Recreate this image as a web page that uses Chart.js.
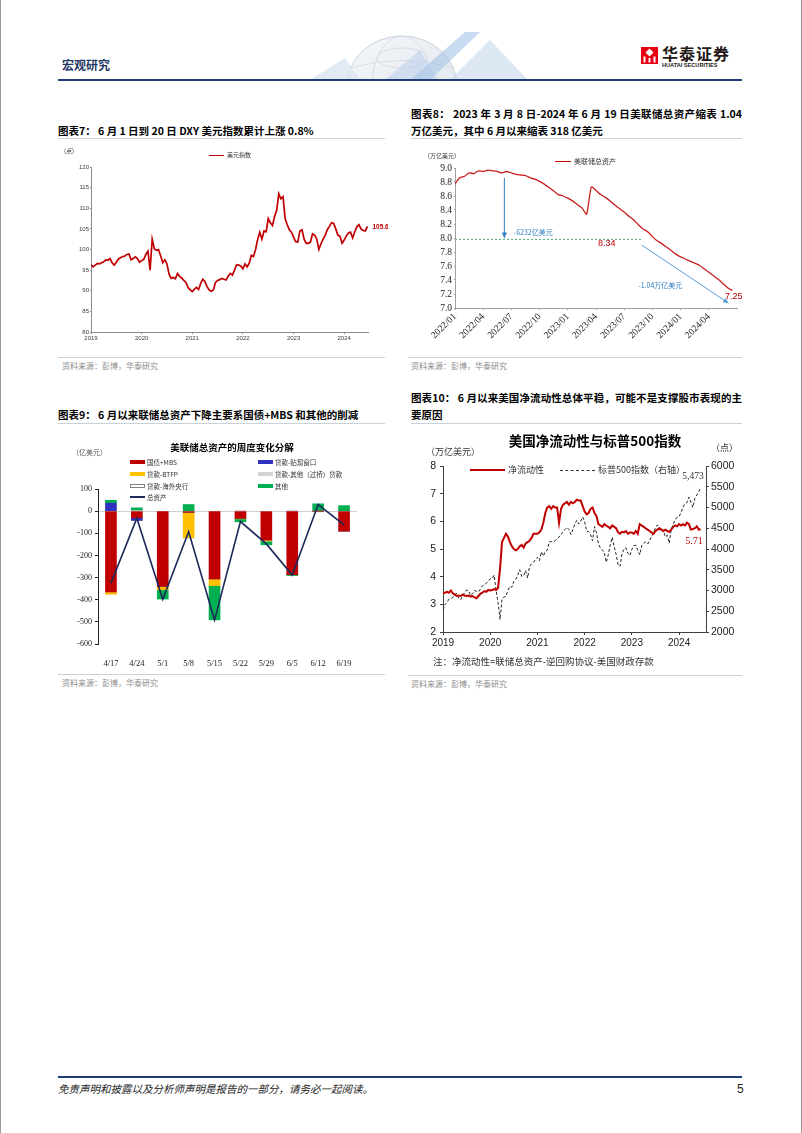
<!DOCTYPE html>
<html>
<head>
<meta charset="utf-8">
<script src="https://cdn.jsdelivr.net/npm/chart.js@4.4.1/dist/chart.umd.min.js"></script>
<style>
html, body { margin: 0; padding: 0; }
body {
    width: 802px; height: 1133px; position: relative; overflow: hidden; background: #fff;
    font-family: "Noto Sans CJK SC", "Liberation Sans", sans-serif; color: #000;
}
.abs { position: absolute; white-space: nowrap; }
.edge { position: absolute; top: 0; width: 1px; height: 1133px; background: #9a9a9a; }
.rule { position: absolute; height: 1px; background: #c8d2da; }
.fig-title { position: absolute; font-weight: 700; font-size: 10.5px; line-height: 17px; }
.fig-title .just { text-align: justify; text-align-last: justify; }
.source { position: absolute; font-size: 8px; line-height: 10px; color: #8c8c8c; }
.small { font-size: 6px; line-height: 6px; color: #333; }
.swatch { position: absolute; }
canvas { position: absolute; }
</style>
</head>
<body>

<div class="edge" style="left:0"></div>
<div class="edge" style="left:801px"></div>

<!-- page header -->
<svg class="abs" style="left:290px; top:28px;" width="250" height="52">
    <defs>
        <linearGradient id="globe" x1="0" y1="0" x2="1" y2="1">
            <stop offset="0" stop-color="#f4f6f9"/>
            <stop offset="1" stop-color="#dfe6ee"/>
        </linearGradient>
    </defs>
    <ellipse cx="112" cy="58" rx="55" ry="50" fill="url(#globe)" stroke="#c9d1db" stroke-width="1"/>
    <ellipse cx="112" cy="58" rx="30" ry="50" fill="none" stroke="#d3d9e1" stroke-width="0.8"/>
    <ellipse cx="112" cy="30" rx="25" ry="10" fill="none" stroke="#d3d9e1" stroke-width="0.8"/>
    <path d="M60 40 Q112 25 164 40" fill="none" stroke="#d3d9e1" stroke-width="0.8"/>
    <polygon points="20,52 55,30 70,52" fill="#dbe5f0" opacity="0.8"/>
    <polygon points="120,52 175,4 190,4 140,52" fill="#9dbde3" opacity="0.55"/>
    <polygon points="160,52 200,12 238,52" fill="#c7d8ec" opacity="0.6"/>
    <polygon points="95,52 130,22 148,52" fill="#b6cde9" opacity="0.5"/>
</svg>
<div class="abs" style="left:62px; top:58px; font-size:12px; line-height:14px; font-weight:700; color:#1f3864;">宏观研究</div>
<svg class="abs" style="left:641px; top:47px;" width="17" height="17">
    <rect x="0" y="0" width="17" height="17" fill="#e60012"/>
    <polygon points="8.5,1.5 12.5,5.5 8.5,9.5 4.5,5.5" fill="#fff"/>
    <rect x="2.5" y="9.5" width="2" height="6" fill="#fff"/>
    <rect x="7.5" y="11" width="2" height="4.5" fill="#fff"/>
    <rect x="12.5" y="9.5" width="2" height="6" fill="#fff"/>
</svg>
<div class="abs" style="left:662px; top:45px; font-size:16px; line-height:16px; font-weight:700; color:#231815; letter-spacing:1px;">华泰证券</div>
<div class="abs" style="left:662px; top:62px; font-size:5.6px; line-height:6px; font-weight:700; color:#231815; font-family:'Liberation Sans';">HUATAI SECURITIES</div>
<div class="abs" style="left:58px; top:79px; width:684px; height:2px; background:#1f3c78;"></div>

<!-- figure titles -->
<div class="fig-title" style="left:58px; top:121.5px;">图表7：&nbsp;6 月 1 日到 20 日 DXY 美元指数累计上涨 0.8%</div>
<div class="fig-title" style="left:411px; top:104.5px; width:331px;">
    <div class="just">图表8：&nbsp;2023 年 3 月 8 日-2024 年 6 月 19 日美联储总资产缩表 1.04</div>
    <div>万亿美元，其中 6 月以来缩表 318 亿美元</div>
</div>
<div class="rule" style="left:58px; top:138px; width:327px;"></div>
<div class="rule" style="left:411px; top:138px; width:331px;"></div>

<div class="fig-title" style="left:58px; top:405.5px;">图表9：&nbsp;6 月以来联储总资产下降主要系国债+MBS 和其他的削减</div>
<div class="fig-title" style="left:411px; top:389px; width:331px;">
    <div class="just">图表10：&nbsp;6 月以来美国净流动性总体平稳，可能不是支撑股市表现的主</div>
    <div>要原因</div>
</div>
<div class="rule" style="left:58px; top:423px; width:327px;"></div>
<div class="rule" style="left:411px; top:423px; width:331px;"></div>

<!-- figure 7 -->
<canvas id="dxyChart" width="330" height="210" style="left:58px; top:140px;"></canvas>
<div class="abs small" style="left:64px; top:148px;">(点)</div>
<div class="swatch" style="left:209px; top:154.5px; width:15px; height:1.5px; background:#c00000;"></div>
<div class="abs small" style="left:227px; top:152px;">美元指数</div>

<!-- figure 8 -->
<canvas id="fedChart" width="334" height="212" style="left:408px; top:140px;"></canvas>
<div class="abs small" style="left:424px; top:153px;">（万亿美元）</div>
<div class="swatch" style="left:555px; top:160.5px; width:16px; height:1.5px; background:#c00000;"></div>
<div class="abs" style="left:574px; top:157.5px; font-size:7px; line-height:7px; color:#333;">美联储总资产</div>

<div class="rule" style="left:58px; top:357px; width:327px;"></div>
<div class="rule" style="left:408px; top:357px; width:334px;"></div>
<div class="source" style="left:62px; top:361px;">资料来源：彭博，华泰研究</div>
<div class="source" style="left:411px; top:361px;">资料来源：彭博，华泰研究</div>

<!-- figure 9 -->
<canvas id="flowChart" width="327" height="245" style="left:58px; top:425px;"></canvas>
<div class="abs" style="left:58px; top:442px; width:348px; text-align:center; font-size:9.5px; line-height:11px; font-weight:700;">美联储总资产的周度变化分解</div>
<div class="abs" style="left:72px; top:448px; font-size:7px; line-height:8px; color:#555;">（亿美元）</div>
<div id="flowLegend"></div>

<!-- figure 10 -->
<canvas id="liqChart" width="334" height="232" style="left:408px; top:425px;"></canvas>
<div class="abs" style="left:408px; top:432px; width:374px; text-align:center; font-size:13.5px; line-height:16px; font-weight:700;">美国净流动性与标普500指数</div>
<div class="abs" style="left:426px; top:447px; font-size:9px; line-height:10px; color:#333;">（万亿美元）</div>
<div class="abs" style="left:711px; top:443px; font-size:9px; line-height:10px; color:#333;">（点）</div>
<div class="swatch" style="left:470px; top:469px; width:35px; height:2.2px; background:#c00000;"></div>
<div class="abs" style="left:508px; top:465px; font-size:9px; line-height:10px; color:#333;">净流动性</div>
<div class="swatch" style="left:560px; top:470px; width:35px; height:0; border-top:1px dashed #333;"></div>
<div class="abs" style="left:598px; top:465px; font-size:9px; line-height:10px; color:#333;">标普500指数（右轴）</div>
<div class="abs" style="left:433px; top:656px; font-size:9.5px; line-height:11px; color:#333;">注：净流动性=联储总资产-逆回购协议-美国财政存款</div>

<div class="rule" style="left:58px; top:674px; width:327px;"></div>
<div class="rule" style="left:408px; top:675px; width:334px;"></div>
<div class="source" style="left:62px; top:678px;">资料来源：彭博，华泰研究</div>
<div class="source" style="left:411px; top:679px;">资料来源：彭博，华泰研究</div>

<!-- footer -->
<div class="abs" style="left:58px; top:1076px; width:684px; height:2px; background:#1f3c78;"></div>
<div class="abs" style="left:58px; top:1083px; font-size:10.5px; line-height:12px; font-style:italic; color:#222;">免责声明和披露以及分析师声明是报告的一部分，请务必一起阅读。</div>
<div class="abs" style="left:737px; top:1082px; font-size:12px; line-height:14px; font-family:'Liberation Sans'; color:#222;">5</div>

<script>
// ---- figure 7: DXY, two readings per month from 2019/01 ----
const dxyStartYear = 2019;
const dxyPerYear = 24;
const dxyYears = [2019, 2020, 2021, 2022, 2023, 2024];
const dxyValues = [
    96.3, 95.8, 96.2, 96.6, 96.5, 96.8, 97.0, 97.5, 97.4, 97.8, 96.8, 96.2,
    96.9, 97.7, 98.0, 98.3, 98.4, 98.8, 98.9, 97.5, 97.8, 98.2, 97.8, 96.9,
    97.3, 97.6, 98.8, 99.6, 95.0, 102.5, 100.2, 99.8, 100.0, 98.5, 96.8, 97.5,
    96.5, 94.0, 93.0, 93.2, 92.9, 94.2, 93.5, 93.1, 92.5, 92.0, 90.8, 90.2,
    89.8, 90.4, 90.8, 90.3, 91.8, 92.8, 92.2, 91.0, 90.2, 89.9, 90.2, 92.0,
    92.5, 92.7, 93.0, 92.8, 92.6, 93.5, 94.2, 93.8, 95.0, 96.3, 96.2, 96.0,
    95.3, 96.5, 95.8, 96.7, 98.6, 98.3, 100.0, 102.5, 104.2, 102.5, 104.5, 104.3,
    107.5, 106.5, 105.8, 108.0, 109.5, 113.5, 112.3, 112.8, 107.5, 106.0, 104.8, 104.2,
    103.0, 101.9, 101.8, 104.5, 104.8, 102.5, 101.5, 101.5, 101.8, 103.8, 103.5, 102.5,
    100.0, 101.4, 102.5, 103.5, 104.8, 105.6, 106.5, 106.3, 105.0, 103.5, 103.2, 101.5,
    102.3, 103.3, 104.0, 104.2, 102.8, 104.3, 105.5, 106.0, 105.0, 104.6, 104.5, 105.6
];

// ---- figure 8: Fed total assets (trillion USD), half-month steps from 2022/01 ----
const fedTickLabels = ['2022/01', '2022/04', '2022/07', '2022/10', '2023/01',
    '2023/04', '2023/07', '2023/10', '2024/01', '2024/04'];
const fedAssets = [
    8.77, 8.86, 8.88, 8.93, 8.92, 8.96, 8.95, 8.97, 8.96, 8.95, 8.93, 8.95,
    8.93, 8.91, 8.90, 8.89, 8.86, 8.84, 8.81, 8.77, 8.72, 8.67, 8.62, 8.60,
    8.57, 8.53, 8.48, 8.43, 8.34, 8.73, 8.68, 8.62, 8.58, 8.53, 8.47, 8.42,
    8.37, 8.31, 8.26, 8.19, 8.13, 8.09, 8.02, 7.96, 7.92, 7.87, 7.82, 7.77,
    7.73, 7.70, 7.67, 7.64, 7.61, 7.56, 7.51, 7.46, 7.41, 7.35, 7.29, 7.25
];

// ---- figure 9: weekly change in Fed balance sheet (100 mn USD) ----
const weekLabels = ['4/17', '4/24', '5/1', '5/8', '5/15', '5/22', '5/29', '6/5', '6/12', '6/19'];
const treasuryMbs = [-365, -30, -340, -5, -306, -32, -130, -287, 0, -90];
const discountWindow = [36, -12, 0, 0, 0, 0, 0, 0, 0, 0];
const btfpLoans = [-10, 0, -15, -115, -30, -3, -5, 0, 0, 0];
const bridgeLoans = [0, 2, 0, -3, 0, 4, 0, 4, -4, 0];
const foreignCbLoans = [0, 0, 0, 0, 0, 0, 0, 0, 0, 0];
const otherItems = [13, 13, -42, 30, -155, -13, -17, -4, 33, 25];
const totalChange = [-325, -32, -398, -93, -492, -47, -148, -289, 30, -62];

// ---- figure 10: net liquidity (trillion USD) and S&P 500, half-month steps from 2019/01 ----
const liqYears = [2019, 2020, 2021, 2022, 2023, 2024];
const netLiquidity = [
    3.40, 3.42, 3.45, 3.42, 3.50, 3.40, 3.35, 3.30, 3.32, 3.30, 3.35, 3.32,
    3.30, 3.32, 3.28, 3.30, 3.25, 3.22, 3.30, 3.38, 3.42, 3.48, 3.45, 3.52,
    3.50, 3.52, 3.55, 3.52, 3.60, 4.30, 5.25, 5.40, 5.55, 5.45, 5.25, 5.10,
    5.00, 4.95, 5.00, 5.10, 5.15, 5.05, 5.20, 5.25, 5.30, 5.40, 5.55, 5.55,
    5.55, 5.60, 5.70, 5.95, 6.30, 6.50, 6.55, 6.45, 6.55, 6.50, 6.50, 5.95,
    6.45, 6.60, 6.65, 6.70, 6.60, 6.70, 6.65, 6.70, 6.78, 6.75, 6.75, 6.55,
    6.35, 6.25, 6.30, 6.45, 6.50, 6.30, 6.20, 5.90, 5.85, 5.80, 5.90, 5.85,
    5.80, 5.75, 5.85, 5.80, 5.75, 5.60, 5.55, 5.62, 5.60, 5.65, 5.55, 5.60,
    5.60, 5.55, 5.65, 5.55, 5.90, 5.85, 5.80, 5.75, 5.70, 5.65, 5.60, 5.55,
    5.65, 5.70, 5.75, 5.70, 5.65, 5.70, 5.65, 5.62, 5.70, 5.80, 5.85, 5.82,
    5.90, 5.85, 5.90, 5.85, 5.95, 5.90, 5.70, 5.72, 5.75, 5.82, 5.70, 5.71
];
const spxIndex = [
    2530, 2660, 2710, 2790, 2810, 2830, 2905, 2930, 2810, 2780, 2880, 2950,
    3010, 3000, 2880, 2920, 3000, 2980, 2970, 3030, 3110, 3140, 3170, 3230,
    3280, 3290, 3370, 3000, 2710, 2300, 2800, 2840, 2860, 3000, 3100, 3080,
    3220, 3270, 3370, 3500, 3340, 3360, 3480, 3300, 3580, 3640, 3680, 3750,
    3800, 3720, 3930, 3830, 3940, 3970, 4170, 4180, 4170, 4200, 4250, 4290,
    4360, 4400, 4470, 4520, 4470, 4350, 4470, 4600, 4690, 4600, 4670, 4770,
    4660, 4430, 4420, 4350, 4200, 4540, 4390, 4130, 4020, 3980, 3900, 3680,
    3860, 4100, 4280, 4060, 3870, 3620, 3580, 3900, 3990, 4030, 3900, 3840,
    3990, 4080, 4090, 3970, 3860, 4080, 4140, 4170, 4120, 4200, 4300, 4400,
    4510, 4580, 4460, 4430, 4460, 4290, 4330, 4140, 4470, 4590, 4720, 4760,
    4780, 4880, 5010, 5090, 5120, 5250, 5130, 5000, 5220, 5300, 5380, 5473
];

Chart.defaults.animation = false;
Chart.defaults.font.family = '"Liberation Sans", Arial, sans-serif';
Chart.defaults.color = '#333';

function fixWidth(w) { return scale => { scale.width = w; }; }
function fixHeight(h) { return scale => { scale.height = h; }; }

function drawArrow(ctx, x1, y1, x2, y2, color) {
    ctx.save();
    ctx.strokeStyle = color;
    ctx.fillStyle = color;
    ctx.lineWidth = 1;
    ctx.beginPath();
    ctx.moveTo(x1, y1);
    ctx.lineTo(x2, y2);
    ctx.stroke();
    const a = Math.atan2(y2 - y1, x2 - x1);
    const h = 6;
    ctx.beginPath();
    ctx.moveTo(x2, y2);
    ctx.lineTo(x2 - h * Math.cos(a - 0.45), y2 - h * Math.sin(a - 0.45));
    ctx.lineTo(x2 - h * Math.cos(a + 0.45), y2 - h * Math.sin(a + 0.45));
    ctx.closePath();
    ctx.fill();
    ctx.restore();
}

// Figure 7
const dxyLast = dxyValues.length - 1;
new Chart(document.getElementById('dxyChart'), {
    type: 'line',
    data: {
        datasets: [{
            data: dxyValues.map((v, i) => ({ x: dxyStartYear + i / dxyPerYear, y: v })),
            borderColor: '#c00000',
            borderWidth: 1.7,
            pointRadius: 0,
            tension: 0
        }]
    },
    options: {
        responsive: false,
        layout: { padding: { top: 27, right: 20, left: 0, bottom: 0 } },
        plugins: { legend: { display: false }, tooltip: { enabled: false } },
        scales: {
            x: {
                type: 'linear', min: dxyYears[0], max: 2024.47,
                ticks: { stepSize: 1, includeBounds: false, maxRotation: 0, padding: 1,
                    font: { size: 6 }, color: '#404040', callback: v => String(v) },
                grid: { drawOnChartArea: false, tickLength: 2, color: '#8c8c8c' },
                border: { color: '#8c8c8c' },
                afterFit: fixHeight(18)
            },
            y: {
                min: 80, max: 120,
                ticks: { stepSize: 5, padding: 1, autoSkip: false, font: { size: 6 }, color: '#404040' },
                grid: { drawOnChartArea: false, tickLength: 1, color: '#8c8c8c' },
                border: { color: '#8c8c8c' },
                afterFit: fixWidth(33)
            }
        }
    },
    plugins: [{
        id: 'dxyEndLabel',
        afterDatasetsDraw(chart) {
            const { ctx, scales } = chart;
            const x = scales.x.getPixelForValue(dxyStartYear + dxyLast / dxyPerYear);
            const y = scales.y.getPixelForValue(dxyValues[dxyLast]);
            ctx.save();
            ctx.fillStyle = '#c00000';
            ctx.font = 'bold 6.5px "Liberation Sans"';
            ctx.textBaseline = 'middle';
            ctx.fillText(dxyValues[dxyLast].toFixed(1), x + 5, y + 1);
            ctx.restore();
        }
    }]
});

// Figure 8
const fedMarks = {
    base: 7.98, baseEnd: 40,
    arrow1: { x: 10.5, from: 8.86, to: 8.0 },
    text1: { x: 12.5, y: 8.08 },
    low: { index: 28, x: 32.3, y: 7.92 },
    arrow2: { x1: 39.7, y1: 7.9, x2: 58.2, y2: 7.07 },
    text2: { x: 39, y: 7.32 },
    endText: { x: 59.3, y: 7.17 }
};
new Chart(document.getElementById('fedChart'), {
    type: 'line',
    data: {
        datasets: [{
            data: fedAssets.map((v, i) => ({ x: i, y: v })),
            borderColor: '#c8201e',
            borderWidth: 1.3,
            pointRadius: 0,
            tension: 0.2
        }]
    },
    options: {
        responsive: false,
        layout: { padding: { top: 28, right: 5, left: 0, bottom: 0 } },
        plugins: { legend: { display: false }, tooltip: { enabled: false } },
        scales: {
            x: {
                type: 'linear', min: 0, max: 60,
                ticks: { stepSize: 6, includeBounds: false, autoSkip: false, minRotation: 45, maxRotation: 45, padding: 1,
                    font: { family: '"Liberation Serif"', size: 9.5 }, color: '#222',
                    callback: v => fedTickLabels[Math.round(v / 6)] },
                grid: { drawOnChartArea: false, tickLength: 2, color: '#a0a0a0' },
                border: { color: '#a0a0a0' },
                afterFit: fixHeight(44)
            },
            y: {
                min: 7, max: 9,
                ticks: { stepSize: 0.2, autoSkip: false, padding: 2, font: { family: '"Liberation Serif"', size: 9.5 },
                    color: '#222', callback: v => v.toFixed(1) },
                grid: { drawOnChartArea: false, tickLength: 1, color: '#a0a0a0' },
                border: { color: '#a0a0a0' },
                afterFit: fixWidth(47)
            }
        }
    },
    plugins: [{
        id: 'fedNotes',
        afterDatasetsDraw(chart) {
            const { ctx, scales } = chart;
            const px = v => scales.x.getPixelForValue(v);
            const py = v => scales.y.getPixelForValue(v);
            const m = fedMarks;
            ctx.save();
            ctx.strokeStyle = '#4fb06f';
            ctx.lineWidth = 1;
            ctx.setLineDash([2, 2]);
            ctx.beginPath();
            ctx.moveTo(px(0), py(m.base));
            ctx.lineTo(px(m.baseEnd), py(m.base));
            ctx.stroke();
            ctx.setLineDash([]);
            drawArrow(ctx, px(m.arrow1.x), py(m.arrow1.from), px(m.arrow1.x), py(m.arrow1.to), '#2f7fc1');
            drawArrow(ctx, px(m.arrow2.x1), py(m.arrow2.y1), px(m.arrow2.x2), py(m.arrow2.y2), '#5b9bd5');
            ctx.textBaseline = 'middle';
            ctx.fillStyle = '#2f7fc1';
            ctx.font = '7px "Noto Sans CJK SC"';
            ctx.fillText('-6232亿美元', px(m.text1.x), py(m.text1.y));
            ctx.fillText('-1.04万亿美元', px(m.text2.x), py(m.text2.y));
            ctx.fillStyle = '#c00000';
            ctx.font = '9px "Liberation Sans"';
            ctx.textAlign = 'center';
            ctx.fillText(fedAssets[m.low.index].toFixed(2), px(m.low.x), py(m.low.y));
            ctx.fillText(fedAssets[fedAssets.length - 1].toFixed(2), px(m.endText.x), py(m.endText.y));
            ctx.restore();
        }
    }]
});

// Figure 9
const flowSeries = [
    { label: '国债+MBS', data: treasuryMbs, color: '#c00000' },
    { label: '贷款-贴现窗口', data: discountWindow, color: '#3030c0' },
    { label: '贷款-BTFP', data: btfpLoans, color: '#ffc000' },
    { label: '贷款-其他（过桥）贷款', data: bridgeLoans, color: '#d4d4d4' },
    { label: '贷款-海外央行', data: foreignCbLoans, color: '#ffffff' },
    { label: '其他', data: otherItems, color: '#00b050' }
];
const flowDatasets = flowSeries.map(s => ({
    type: 'bar',
    label: s.label,
    data: s.data,
    backgroundColor: s.color,
    borderColor: s.color === '#ffffff' ? '#808080' : s.color,
    borderWidth: s.color === '#ffffff' ? 0.6 : 0,
    barThickness: 11,
    stack: 'parts',
    order: 1
}));
flowDatasets.push({
    type: 'line',
    label: '总资产',
    data: totalChange,
    borderColor: '#1b2a5a',
    borderWidth: 1.6,
    pointRadius: 0,
    tension: 0,
    stack: 'total',
    order: 0
});
new Chart(document.getElementById('flowChart'), {
    type: 'bar',
    data: { labels: weekLabels, datasets: flowDatasets },
    options: {
        responsive: false,
        layout: { padding: { top: 64, right: 28, left: 0, bottom: 0 } },
        plugins: { legend: { display: false }, tooltip: { enabled: false } },
        scales: {
            x: {
                stacked: true,
                ticks: { padding: 7, maxRotation: 0, font: { family: '"Liberation Serif"', size: 8.5 }, color: '#222' },
                grid: { display: false },
                border: { display: false },
                afterFit: fixHeight(26)
            },
            y: {
                stacked: true, min: -600, max: 100,
                ticks: { stepSize: 100, autoSkip: false, padding: 3, font: { family: '"Liberation Serif"', size: 8 }, color: '#222' },
                grid: {
                    color: c => (c.tick && c.tick.value === 0) ? '#d0d0d0' : 'rgba(0,0,0,0)',
                    tickColor: '#222', tickLength: 3
                },
                border: { color: '#222' },
                afterFit: fixWidth(40)
            }
        }
    }
});

// Figure 9 legend (two columns, drawn as page text)
const legendBox = document.getElementById('flowLegend');
const legendSlots = [
    { i: 0, x: 130, y: 462 }, { i: 1, x: 258, y: 462 },
    { i: 2, x: 130, y: 474 }, { i: 3, x: 258, y: 474 },
    { i: 4, x: 130, y: 486 }, { i: 5, x: 258, y: 486 },
    { i: 6, x: 130, y: 497 }
];
legendSlots.forEach(slot => {
    const ds = flowDatasets[slot.i];
    const sw = document.createElement('div');
    sw.className = 'swatch';
    if (ds.type === 'line') {
        sw.style.cssText = `left:${slot.x}px; top:${slot.y - 1}px; width:15px; height:2px; background:${ds.borderColor};`;
    } else {
        const edge = ds.borderWidth ? `border:0.6px solid ${ds.borderColor}; box-sizing:border-box;` : '';
        sw.style.cssText = `left:${slot.x}px; top:${slot.y - 2}px; width:15px; height:4px; background:${ds.backgroundColor}; ${edge}`;
    }
    legendBox.appendChild(sw);
    const tx = document.createElement('div');
    tx.className = 'abs';
    tx.style.cssText = `left:${slot.x + 17}px; top:${slot.y - 4}px; font-size:6.5px; line-height:8px; color:#333;`;
    tx.textContent = ds.label;
    legendBox.appendChild(tx);
});

// Figure 10
const liqLast = netLiquidity.length - 1;
new Chart(document.getElementById('liqChart'), {
    type: 'line',
    data: {
        datasets: [{
            label: '净流动性',
            data: netLiquidity.map((v, i) => ({ x: liqYears[0] + i / 24, y: v })),
            borderColor: '#c00000',
            borderWidth: 2,
            pointRadius: 0,
            tension: 0,
            yAxisID: 'y'
        }, {
            label: '标普500指数（右轴）',
            data: spxIndex.map((v, i) => ({ x: liqYears[0] + i / 24, y: v })),
            borderColor: '#222',
            borderWidth: 1,
            borderDash: [3, 2],
            pointRadius: 0,
            tension: 0,
            yAxisID: 'y2'
        }]
    },
    options: {
        responsive: false,
        layout: { padding: { top: 41, right: 0, left: 0, bottom: 0 } },
        plugins: { legend: { display: false }, tooltip: { enabled: false } },
        scales: {
            x: {
                type: 'linear', min: liqYears[0], max: 2024.57,
                ticks: { stepSize: 1, includeBounds: false, maxRotation: 0, padding: 2,
                    font: { size: 10 }, color: '#222', callback: v => String(v) },
                grid: { drawOnChartArea: false, tickLength: 3, color: '#404040' },
                border: { color: '#404040' },
                afterFit: fixHeight(25)
            },
            y: {
                position: 'left', min: 2, max: 8,
                ticks: { stepSize: 1, autoSkip: false, padding: 4, font: { size: 10.5 }, color: '#222' },
                grid: { drawOnChartArea: false, tickLength: 3, color: '#404040' },
                border: { color: '#404040' },
                afterFit: fixWidth(35)
            },
            y2: {
                position: 'right', min: 2000, max: 6000,
                ticks: { stepSize: 500, autoSkip: false, padding: 2, font: { size: 10.5 }, color: '#222', callback: v => String(v) },
                grid: { drawOnChartArea: false, tickLength: 3, color: '#404040' },
                border: { color: '#404040' },
                afterFit: fixWidth(36)
            }
        }
    },
    plugins: [{
        id: 'liqEndLabels',
        afterDatasetsDraw(chart) {
            const { ctx, scales } = chart;
            const x = scales.x.getPixelForValue(liqYears[0] + liqLast / 24);
            ctx.save();
            ctx.font = '9.5px "Liberation Serif"';
            ctx.textBaseline = 'middle';
            ctx.textAlign = 'right';
            ctx.fillStyle = '#333';
            ctx.fillText(spxIndex[liqLast].toLocaleString('en-US'), x + 3, scales.y2.getPixelForValue(spxIndex[liqLast]) - 11);
            ctx.font = '10px "Liberation Serif"';
            ctx.fillStyle = '#c00000';
            ctx.fillText(netLiquidity[liqLast].toFixed(2), x + 2, scales.y.getPixelForValue(netLiquidity[liqLast]) + 12);
            ctx.restore();
        }
    }]
});
</script>
</body>
</html>
